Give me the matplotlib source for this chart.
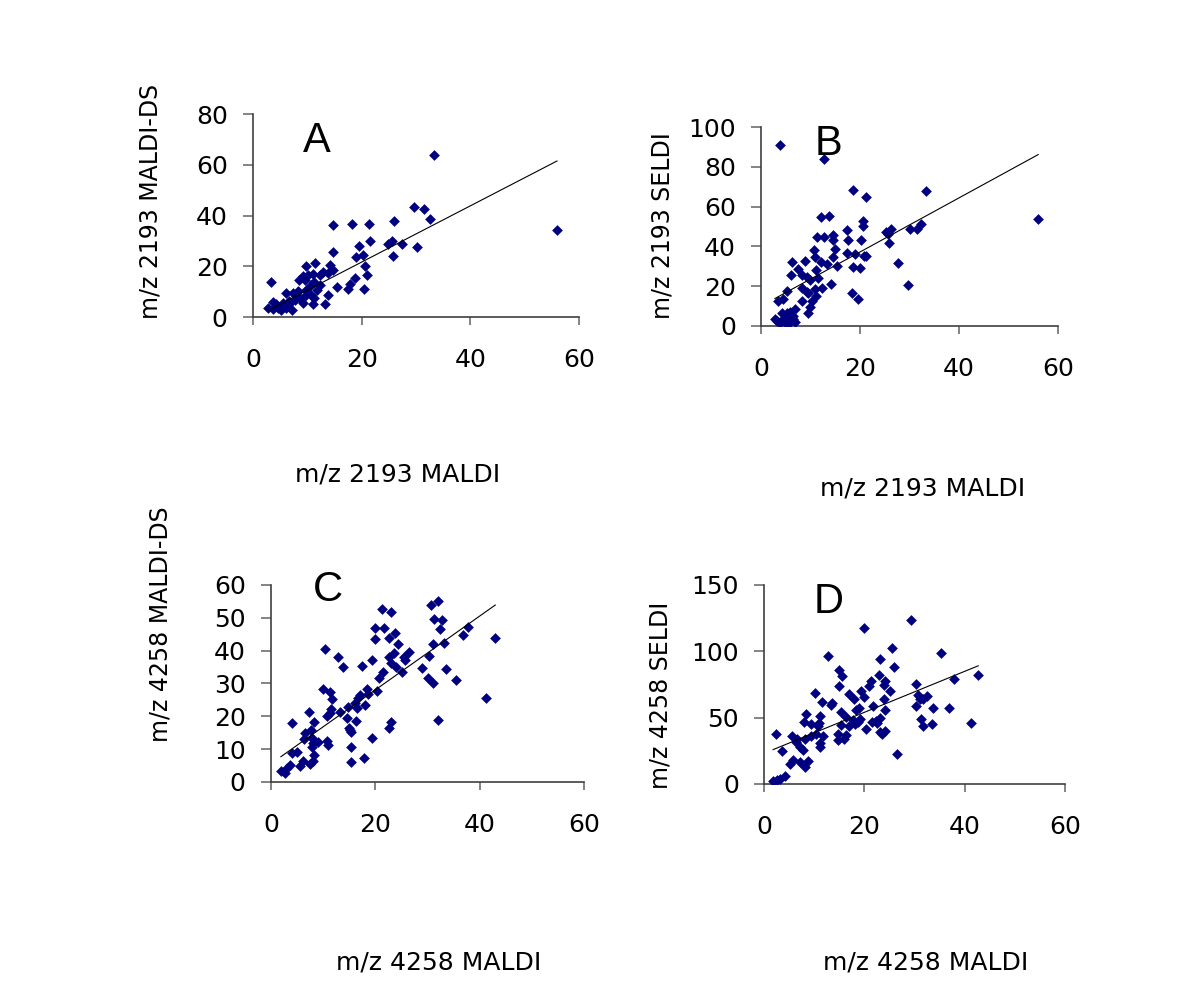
import numpy as np
import matplotlib
matplotlib.use("Agg")
import matplotlib.pyplot as plt

NAVY = "#000080"
SPINE = "#404040"
TICK = "#707070"

plt.rcParams.update({
    "font.family": ["DejaVu Sans"],
    "font.size": 18,
    "axes.spines.top": False, "axes.spines.right": False,
    "axes.edgecolor": SPINE, "axes.linewidth": 1.2,
    "xtick.color": TICK, "ytick.color": TICK,
    "xtick.labelcolor": "black", "ytick.labelcolor": "black",
    "xtick.major.size": 6, "ytick.major.size": 7.2,
    "xtick.major.width": 1.2, "ytick.major.width": 1.2,
    "xtick.major.pad": 16, "ytick.major.pad": 11,
    "xtick.labelsize": 18, "ytick.labelsize": 18,
})

# ---- data ---------------------------------------------------------------
a_x = [33.3, 55.95, 29.6, 31.4, 32.5, 26.0, 14.7, 18.3, 21.3, 21.6, 19.6, 24.9, 25.5,
       27.4, 30.1, 25.8, 14.7, 19.0, 20.2, 20.7, 20.9, 20.4, 17.5, 17.8, 18.7, 15.5,
       13.8, 13.2, 14.1, 14.7, 13.8, 11.5, 9.8, 12.9, 12.3, 11.0, 10.1, 9.2, 8.5, 9.5,
       11.3, 10.7, 12.3, 11.7, 9.8, 8.3, 7.4, 6.1, 10.7, 9.5, 8.6, 11.3, 7.7, 6.7, 9.2,
       11.0, 5.5, 3.7, 3.4, 2.8, 3.7, 4.6, 5.2, 6.1, 7.1, 4.3, 5.5, 8.0, 6.7]
a_y = [63.9, 34.4, 43.5, 42.6, 38.8, 38.0, 36.1, 36.5, 36.5, 29.9, 28.1, 28.9, 29.8,
       28.7, 27.7, 23.9, 25.7, 23.5, 24.4, 20.2, 16.4, 11.1, 11.0, 13.0, 15.3, 11.7,
       8.5, 5.2, 20.6, 18.6, 17.3, 21.2, 20.3, 17.9, 16.7, 17.0, 16.7, 16.0, 14.7, 14.7,
       14.0, 12.7, 12.7, 10.8, 10.8, 10.1, 9.4, 9.4, 8.8, 8.1, 7.5, 7.5, 6.8, 6.2, 5.5,
       5.2, 5.5, 5.8, 14.0, 3.5, 3.1, 3.5, 2.9, 3.5, 2.6, 5.0, 4.2, 8.1, 5.0]
a_fit = (1.108, -0.5)   # slope, intercept of the trend line

b_x = [3.8, 12.8, 18.5, 21.3, 33.3, 56.0, 12.1, 13.7, 20.5, 20.5, 17.3, 25.2, 26.2,
       25.6, 30.1, 31.6, 32.4, 11.4, 12.8, 14.6, 14.5, 17.5, 20.2, 25.8, 10.7, 14.9,
       17.4, 18.9, 20.8, 21.3, 10.9, 14.5, 6.2, 8.9, 12.2, 13.4, 15.4, 18.6, 19.9, 27.6,
       7.5, 11.2, 6.1, 8.2, 9.2, 11.6, 9.9, 14.1, 12.4, 8.3, 9.2, 10.9, 9.5, 11.2, 5.2,
       29.7, 18.4, 19.6, 8.2, 10.2, 3.5, 4.5, 9.9, 9.5, 6.9, 5.9, 5.2, 4.2, 6.5, 5.5,
       4.5, 3.2, 3.8, 4.8, 5.9, 6.5, 2.8, 5.2, 6.9]
b_y = [91.0, 83.9, 68.2, 64.7, 67.7, 53.7, 54.8, 55.5, 52.7, 50.2, 48.0, 47.3, 49.0,
       46.2, 49.0, 49.0, 51.2, 44.5, 44.5, 45.7, 43.3, 43.3, 43.3, 41.5, 38.1, 38.6,
       36.8, 36.1, 35.1, 35.1, 34.8, 34.8, 32.1, 32.8, 32.3, 31.1, 30.1, 29.8, 29.4, 31.6,
       28.8, 28.1, 25.8, 25.8, 24.7, 23.9, 23.1, 21.2, 18.9, 19.2, 17.2, 18.4, 16.7, 15.1, 17.6,
       20.6, 16.6, 13.7, 12.5, 12.7, 12.5, 13.7, 9.7, 6.4, 8.4, 7.2, 6.4, 6.7, 5.0, 3.8,
       3.3, 2.7, 1.7, 2.0, 2.2, 3.3, 3.3, 1.3, 2.2]
b_fit = (1.36, 10.0)

c_x = [32.0, 30.6, 21.3, 23.0, 31.3, 32.7, 32.5, 37.7, 36.9, 43.0, 19.9, 21.6, 19.9,
       22.7, 23.7, 24.4, 31.1, 33.2, 10.3, 12.9, 13.9, 17.4, 19.3, 22.7, 23.5, 26.4,
       25.5, 25.7, 23.1, 23.9, 25.2, 21.5, 20.7, 30.3, 29.0, 30.2, 31.1, 33.6, 35.4,
       41.2, 32.0, 20.4, 18.4, 18.6, 17.0, 16.7, 18.0, 16.1, 16.4, 14.8, 13.2, 11.6,
       10.0, 11.4, 11.7, 10.8, 11.3, 14.5, 15.0, 15.4, 15.1, 16.3, 15.4, 15.4, 17.9,
       19.3, 23.0, 22.6, 7.3, 8.2, 4.1, 6.5, 7.7, 6.3, 7.8, 8.1, 9.1, 10.8, 11.0, 7.8,
       8.3, 8.1, 7.5, 6.2, 5.6, 4.9, 4.0, 3.6, 3.0, 1.9, 2.7]
c_y = [55.2, 53.9, 52.6, 51.9, 49.6, 49.3, 46.5, 47.2, 44.9, 43.8, 46.8, 46.8, 43.5,
       43.8, 45.5, 42.0, 42.0, 42.4, 40.6, 38.2, 35.0, 35.3, 37.2, 38.2, 39.2, 39.7,
       38.0, 37.2, 36.1, 35.1, 33.6, 33.6, 31.6, 38.4, 34.6, 31.6, 30.1, 34.3, 31.1,
       25.5, 18.9, 27.7, 28.3, 26.8, 26.5, 25.5, 23.5, 24.0, 22.4, 22.9, 21.4, 22.1,
       28.3, 27.3, 25.3, 20.2, 20.9, 19.4, 16.5, 15.1, 15.8, 18.7, 10.8, 6.2, 7.2,
       13.3, 18.2, 16.3, 21.3, 18.4, 17.9, 15.0, 15.8, 13.0, 13.3, 11.8, 12.3, 12.6, 11.3, 10.8,
       8.2, 6.5, 5.4, 6.5, 4.9, 9.2, 8.9, 5.2, 4.2, 3.4, 2.8]
c_fit = (1.124, 5.56)

d_x = [29.2, 20.0, 25.6, 35.3, 12.8, 23.2, 25.9, 14.9, 15.6, 23.0, 21.4, 20.9, 24.2,
       23.9, 14.9, 42.7, 37.8, 30.3, 25.2, 19.4, 17.0, 17.9, 20.0, 23.9, 30.7, 32.4,
       31.6, 31.1, 10.2, 11.6, 13.6, 13.3, 21.8, 24.2, 30.3, 33.6, 36.9, 18.3, 18.9,
       15.4, 8.4, 11.2, 16.4, 19.1, 17.8, 23.1, 22.3, 21.6, 22.6, 31.3, 41.3, 33.4,
       31.7, 8.0, 9.3, 11.0, 10.7, 15.3, 17.0, 18.1, 18.8, 20.4, 23.2, 24.1, 23.6, 9.3,
       10.3, 11.8, 14.8, 16.3, 16.0, 14.8, 2.3, 5.5, 6.5, 8.1, 6.3, 7.1, 7.8, 11.1, 11.1,
       3.6, 26.5, 5.8, 5.2, 7.1, 8.8, 8.1, 4.1, 3.1, 1.8, 2.5]
d_y = [123.6, 117.3, 102.7, 98.9, 96.4, 93.9, 88.3, 85.8, 81.3, 82.3, 77.5, 74.0, 77.5,
       74.5, 74.2, 82.1, 78.8, 75.0, 70.0, 70.0, 67.5, 64.4, 65.7, 64.2, 67.0, 66.2,
       63.7, 64.4, 68.2, 61.7, 61.4, 59.4, 58.6, 55.6, 58.6, 56.9, 56.9, 55.6, 56.9,
       54.4, 52.6, 51.1, 50.6, 49.3, 48.1, 49.8, 47.6, 46.8, 46.1, 48.8, 46.3, 45.3,
       43.8, 46.8, 45.1, 46.1, 43.5, 44.8, 43.5, 45.1, 46.8, 41.8, 39.3, 40.0, 38.0, 36.5,
       37.3, 36.5, 37.3, 36.7, 34.2, 33.0, 37.5, 36.2, 34.2, 34.2, 31.7, 27.9, 25.4, 30.5, 27.9,
       24.9, 22.7, 17.9, 15.4, 16.6, 17.4, 12.8, 5.8, 4.0, 2.0, 3.3]
d_fit = (1.545, 23.1)

panels = [
    # x, y, fit, ymax, ystep, letter, ylabel, xlabel, axes rect (fig fraction)
    (a_x, a_y, a_fit, 80, 20, "A", "m/z 2193 MALDI-DS", "m/z 2193 MALDI", [0.2108, 0.6778, 0.2717, 0.2063]),
    (b_x, b_y, b_fit, 100, 20, "B", "m/z 2193 SELDI", "m/z 2193 MALDI", [0.6342, 0.6687, 0.2475, 0.2022]),
    (c_x, c_y, c_fit, 60, 10, "C", "m/z 4258 MALDI-DS", "m/z 4258 MALDI", [0.2258, 0.2053, 0.2608, 0.2002]),
    (d_x, d_y, d_fit, 150, 50, "D", "m/z 4258 SELDI", "m/z 4258 MALDI", [0.6367, 0.2033, 0.2508, 0.2022]),
]
# label placement in pixels (x, y) of the 1200x984 canvas
ylab_pos = [(150, 319), (663, 319), (160, 742), (660, 789)]
xlab_pos = [(398, 475), (923, 489), (439, 963), (926, 963)]
letter_pos = [(303, 152), (815, 155), (313, 601), (814, 613)]

W, H = 1200, 984
fig = plt.figure(figsize=(W / 100, H / 100), dpi=100)

for i, (x, y, fit, ymax, ystep, letter, ylab, xlab, rect) in enumerate(panels):
    ax = fig.add_axes(rect)
    ax.scatter(x, y, marker="D", s=30, color=NAVY, linewidths=0, zorder=3)
    xs = np.array([min(x), max(x)])
    ax.plot(xs, fit[0] * xs + fit[1], color="black", lw=0.8, zorder=4)
    ax.set_xlim(0, 60)
    ax.set_ylim(0, ymax)
    ax.set_xticks(np.arange(0, 61, 20))
    ax.set_yticks(np.arange(0, ymax + 1, ystep))
    ax.patch.set_visible(False)

    px, py = ylab_pos[i]
    fig.text(px / W, 1 - py / H, ylab, rotation=90, ha="center", va="bottom", fontsize=17)
    px, py = xlab_pos[i]
    fig.text(px / W, 1 - py / H, xlab, ha="center", va="center", fontsize=18)
    px, py = letter_pos[i]
    fig.text(px / W, 1 - py / H, letter, ha="left", va="baseline", fontsize=30,
             family="Liberation Sans")

fig.savefig("out.png", dpi=100, facecolor="white")
